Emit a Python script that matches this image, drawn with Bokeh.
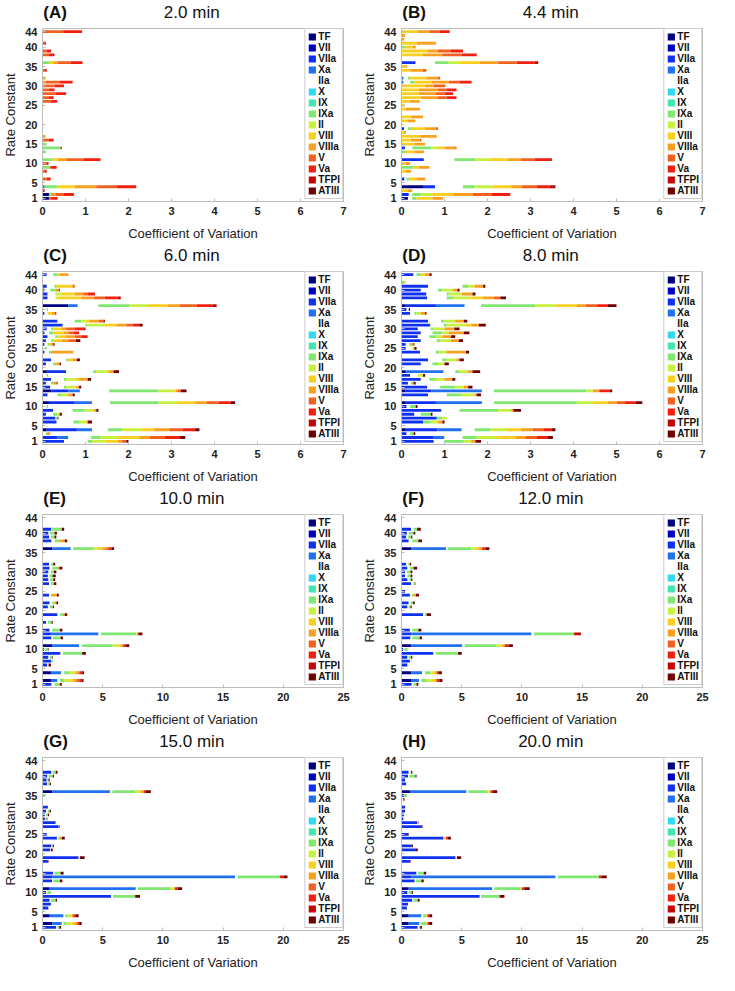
from bokeh.plotting import figure
from bokeh.layouts import gridplot
from bokeh.models import FixedTicker, ColumnDataSource, Range1d
from bokeh.core.properties import value
from bokeh.embed import file_html
from bokeh.resources import INLINE

species = ["TF", "VII", "VIIa", "Xa", "IIa", "X", "IX", "IXa", "II", "VIII", "VIIIa", "V", "Va", "TFPI", "ATIII"]
colors = ["#000080", "#0000c0", "#1030f0", "#2070f0", "#ffffff", "#30d8f0", "#40e8b0", "#80e870",
          "#c8f040", "#f8d020", "#f8a020", "#f06020", "#f02010", "#c00808", "#700000"]
rate_constants = list(range(1, 45))
panel_labels = ["(A)", "(B)", "(C)", "(D)", "(E)", "(F)", "(G)", "(H)"]
panel_times = ["2.0 min", "4.4 min", "6.0 min", "8.0 min", "10.0 min", "12.0 min", "15.0 min", "20.0 min"]
x_max = [7, 7, 7, 7, 25, 25, 25, 25]
x_ticks_small = [0, 1, 2, 3, 4, 5, 6, 7]
x_ticks_large = [0, 5, 10, 15, 20, 25]
y_ticks = [1, 5, 10, 15, 20, 25, 30, 35, 40, 44]

# cumulative segment ends (species, end of its segment) per rate constant
cv_A = {
    44: [("V", 0.48), ("Va", 0.92)], 41: [("V", 0.04), ("Va", 0.08)],
    39: [("V", 0.1), ("Va", 0.2)], 38: [("V", 0.15), ("Va", 0.28)],
    36: [("IXa", 0.17), ("VIII", 0.25), ("VIIIa", 0.35), ("V", 0.65), ("Va", 0.93)],
    34: [("V", 0.05), ("Va", 0.1)], 32: [("VIIIa", 0.07)],
    31: [("VIIIa", 0.08), ("V", 0.4), ("Va", 0.7)], 30: [("V", 0.28), ("Va", 0.5)],
    29: [("V", 0.15), ("Va", 0.28)], 28: [("V", 0.3), ("Va", 0.55)],
    27: [("V", 0.15), ("Va", 0.26)], 26: [("V", 0.2), ("Va", 0.34)],
    17: [("VIIIa", 0.07)], 16: [("V", 0.15), ("Va", 0.26)], 15: [("IXa", 0.1)],
    14: [("IXa", 0.42), ("Va", 0.45)], 13: [("IXa", 0.08)],
    11: [("IXa", 0.23), ("VIII", 0.35), ("VIIIa", 0.57), ("V", 0.95), ("Va", 1.35)],
    10: [("V", 0.1), ("Va", 0.14)], 9: [("IXa", 0.17), ("V", 0.2), ("Va", 0.33)],
    8: [("V", 0.05), ("Va", 0.1)], 6: [("Xa", 0.03), ("V", 0.1), ("Va", 0.19)],
    4: [("Xa", 0.05), ("IXa", 0.35), ("VIII", 0.75), ("VIIIa", 1.25), ("V", 1.72), ("Va", 2.18)],
    3: [("Va", 0.05)],
    2: [("TF", 0.15), ("IXa", 0.2), ("VIIIa", 0.3), ("V", 0.5), ("Va", 0.73)],
    1: [("TF", 0.15), ("V", 0.2), ("Va", 0.35)],
}
cv_B = {
    44: [("VIII", 0.37), ("VIIIa", 0.65), ("V", 0.88), ("Va", 1.12)], 43: [("VIIIa", 0.08)],
    42: [("VIIIa", 0.06)], 41: [("VIII", 0.35), ("VIIIa", 0.8)],
    40: [("IXa", 0.1), ("VIII", 0.25), ("VIIIa", 0.33)],
    39: [("VIII", 0.6), ("VIIIa", 0.85), ("V", 1.15), ("Va", 1.43)],
    38: [("VIII", 0.5), ("VIIIa", 0.95), ("V", 1.4), ("Va", 1.75)],
    36: [("VIIa", 0.33), ("IIa", 0.78), ("IXa", 1.1), ("II", 1.35), ("VIII", 1.82), ("VIIIa", 2.25),
         ("V", 2.68), ("Va", 3.1), ("TFPI", 3.18)],
    35: [("VIII", 0.1), ("VIIIa", 0.13)], 34: [("VIII", 0.2), ("VIIIa", 0.5), ("V", 0.58)],
    32: [("Xa", 0.05), ("IIa", 0.15), ("IXa", 0.2), ("VIII", 0.58), ("VIIIa", 0.85), ("V", 0.9)],
    31: [("Xa", 0.05), ("IIa", 0.2), ("IXa", 0.3), ("VIII", 0.7), ("VIIIa", 1.1), ("V", 1.35), ("Va", 1.63)],
    30: [("VIII", 0.55), ("VIIIa", 0.75), ("V", 1.02)],
    29: [("VIII", 0.4), ("VIIIa", 0.85), ("V", 1.05), ("Va", 1.28)],
    28: [("VIII", 0.4), ("VIIIa", 0.8), ("V", 1.0), ("Va", 1.2)],
    27: [("VIII", 0.45), ("VIIIa", 0.85), ("V", 1.05), ("Va", 1.28)],
    26: [("VIII", 0.2), ("VIIIa", 0.42)], 25: [("VIII", 0.05), ("VIIIa", 0.07)],
    24: [("VIII", 0.1), ("VIIIa", 0.43)], 22: [("VIII", 0.22), ("VIIIa", 0.5)],
    21: [("VIII", 0.15), ("VIIIa", 0.32)],
    19: [("VIIa", 0.06), ("IIa", 0.15), ("IXa", 0.22), ("VIII", 0.55), ("VIIIa", 0.8), ("V", 0.85)],
    18: [("VIII", 0.05), ("VIIIa", 0.1)], 17: [("VIII", 0.45), ("VIIIa", 0.82)],
    16: [("VIII", 0.22), ("VIIIa", 0.42), ("V", 0.46)], 15: [("VIII", 0.3), ("VIIIa", 0.55)],
    14: [("VIIa", 0.08), ("IIa", 0.25), ("IXa", 0.7), ("II", 0.85), ("VIII", 1.0), ("VIIIa", 1.25), ("V", 1.28)],
    13: [("IXa", 0.1), ("VIII", 0.3), ("VIIIa", 0.52)],
    11: [("VIIa", 0.52), ("IIa", 1.23), ("IXa", 1.72), ("II", 2.05), ("VIII", 2.48), ("VIIIa", 2.78),
         ("V", 3.1), ("Va", 3.48), ("TFPI", 3.5)],
    10: [("VIII", 0.1), ("VIIIa", 0.2)], 9: [("IXa", 0.28), ("VIII", 0.4), ("VIIIa", 0.65)],
    8: [("VIII", 0.1), ("VIIIa", 0.22)],
    6: [("VIIa", 0.07), ("IIa", 0.12), ("IXa", 0.18), ("VIII", 0.35), ("VIIIa", 0.55)],
    4: [("TF", 0.5), ("VIIa", 0.78), ("IIa", 1.43), ("IXa", 1.7), ("II", 2.12), ("VIII", 2.55), ("VIIIa", 2.8),
        ("V", 3.15), ("Va", 3.45), ("TFPI", 3.55), ("ATIII", 3.58)],
    3: [("VIII", 0.15), ("VIIIa", 0.25)],
    2: [("VIIa", 0.17), ("IIa", 0.25), ("IXa", 0.45), ("II", 0.72), ("VIII", 1.22), ("VIIIa", 1.65),
        ("V", 2.1), ("Va", 2.53)],
    1: [("TF", 0.15), ("IIa", 0.25), ("IXa", 0.35), ("VIII", 0.72), ("VIIIa", 0.97)],
}
cv_C = {
    44: [("VIIa", 0.1), ("IIa", 0.25), ("IXa", 0.35), ("VIII", 0.4), ("VIIIa", 0.58), ("V", 0.6)],
    43: [("IIa", 0.05)], 42: [("IIa", 0.04)],
    41: [("VIIa", 0.1), ("IIa", 0.28), ("IXa", 0.32), ("VIII", 0.7), ("V", 0.75)],
    40: [("VIIa", 0.05), ("IIa", 0.18), ("IXa", 0.3), ("VIIIa", 0.38), ("ATIII", 0.4)],
    39: [("VIIa", 0.12), ("IIa", 0.3), ("II", 0.45), ("VIII", 0.75), ("VIIIa", 0.95), ("V", 1.05),
         ("Va", 1.2), ("TFPI", 1.22)],
    38: [("VIIa", 0.12), ("IIa", 0.3), ("II", 0.35), ("VIII", 0.9), ("VIIIa", 1.2), ("V", 1.45),
         ("Va", 1.75), ("TFPI", 1.82)],
    36: [("TF", 0.6), ("Xa", 0.82), ("IIa", 1.3), ("IXa", 2.02), ("II", 2.45), ("VIII", 2.92),
         ("VIIIa", 3.2), ("V", 3.58), ("Va", 3.95), ("TFPI", 4.05)],
    35: [("IIa", 0.1), ("IXa", 0.13)],
    34: [("VIIa", 0.05), ("IIa", 0.12), ("VIII", 0.22), ("VIIIa", 0.3), ("ATIII", 0.32)],
    32: [("VIIa", 0.35), ("IIa", 0.75), ("IXa", 0.9), ("II", 1.0), ("VIII", 1.1), ("VIIIa", 1.3),
         ("V", 1.42), ("ATIII", 1.45)],
    31: [("VIIa", 0.47), ("IIa", 1.0), ("IXa", 1.05), ("II", 1.45), ("VIII", 1.72), ("VIIIa", 1.95),
         ("V", 2.1), ("Va", 2.25), ("ATIII", 2.33)],
    30: [("VIIa", 0.1), ("IIa", 0.2), ("IXa", 0.25), ("VIII", 0.45), ("VIIIa", 0.55), ("V", 0.75),
         ("Va", 0.95), ("TFPI", 1.0)],
    29: [("VIIa", 0.05), ("IIa", 0.15), ("IXa", 0.25), ("VIII", 0.5), ("VIIIa", 0.6), ("V", 0.72), ("Va", 0.85)],
    28: [("VIIa", 0.12), ("IIa", 0.3), ("IXa", 0.35), ("VIII", 0.55), ("VIIIa", 0.75), ("V", 0.9), ("Va", 1.05)],
    27: [("VIIa", 0.08), ("IIa", 0.2), ("IXa", 0.25), ("VIII", 0.45), ("VIIIa", 0.6), ("V", 0.78), ("ATIII", 0.88)],
    26: [("VIIa", 0.05), ("IIa", 0.12), ("IXa", 0.15), ("VIII", 0.2), ("VIIIa", 0.25), ("ATIII", 0.28)],
    25: [("IIa", 0.06), ("IXa", 0.1)],
    24: [("VIIa", 0.05), ("IIa", 0.15), ("IXa", 0.2), ("VIIIa", 0.72)],
    22: [("VIIa", 0.2), ("IIa", 0.55), ("IXa", 0.6), ("VIII", 0.7), ("VIIIa", 0.8), ("ATIII", 0.87)],
    21: [("VIIa", 0.08), ("IIa", 0.25), ("IXa", 0.32), ("VIIIa", 0.4), ("ATIII", 0.43)],
    19: [("TF", 0.1), ("VIIa", 0.55), ("IIa", 1.18), ("IXa", 1.25), ("II", 1.5), ("VIII", 1.55),
         ("VIIIa", 1.65), ("ATIII", 1.78)],
    18: [("IIa", 0.1), ("IXa", 0.13)],
    17: [("VIIa", 0.2), ("IIa", 0.5), ("IXa", 0.55), ("II", 0.75), ("VIII", 0.85), ("VIIIa", 1.05), ("ATIII", 1.13)],
    16: [("VIIa", 0.08), ("IIa", 0.2), ("IXa", 0.25), ("VIIIa", 0.33), ("ATIII", 0.35)],
    15: [("VIIa", 0.18), ("IIa", 0.5), ("IXa", 0.55), ("II", 0.75), ("VIII", 0.8), ("VIIIa", 0.85), ("ATIII", 0.9)],
    14: [("TF", 0.2), ("VIIa", 0.6), ("Xa", 0.87), ("IIa", 1.55), ("IXa", 2.7), ("II", 3.05), ("VIII", 3.1),
         ("VIIIa", 3.15), ("V", 3.22), ("ATIII", 3.35)],
    13: [("VIIa", 0.12), ("IIa", 0.35), ("IXa", 0.45), ("II", 0.6), ("VIIIa", 0.7), ("ATIII", 0.75)],
    11: [("TF", 0.15), ("VIIa", 0.75), ("Xa", 1.15), ("IIa", 1.57), ("IXa", 2.7), ("II", 3.15), ("VIII", 3.55),
         ("VIIIa", 3.82), ("V", 4.1), ("Va", 4.38), ("ATIII", 4.48)],
    10: [("IIa", 0.1), ("IXa", 0.13)],
    9: [("VIIa", 0.25), ("IIa", 0.7), ("IXa", 0.98), ("II", 1.2), ("VIIIa", 1.25), ("ATIII", 1.3)],
    8: [("VIIa", 0.08), ("IIa", 0.25), ("IXa", 0.35), ("II", 0.4), ("ATIII", 0.45)],
    7: [("VIIa", 0.3), ("IXa", 0.35), ("ATIII", 0.37)],
    6: [("VIIa", 0.33), ("IIa", 0.72), ("IXa", 0.85), ("II", 1.0), ("VIII", 1.05), ("ATIII", 1.15)],
    4: [("TF", 0.1), ("VIIa", 0.8), ("Xa", 1.15), ("IIa", 1.52), ("IXa", 1.85), ("II", 2.3), ("VIII", 2.6),
        ("VIIIa", 2.95), ("V", 3.25), ("Va", 3.55), ("ATIII", 3.65)],
    3: [("IIa", 0.08), ("IXa", 0.1), ("VIIIa", 0.18)],
    2: [("VIIa", 0.35), ("Xa", 0.6), ("IIa", 1.13), ("IXa", 1.35), ("II", 1.75), ("VIII", 2.25), ("VIIIa", 2.5),
        ("V", 2.85), ("Va", 3.2), ("ATIII", 3.32)],
    1: [("VIIa", 0.5), ("IIa", 1.05), ("IXa", 1.15), ("II", 1.45), ("VIII", 1.75), ("VIIIa", 1.85),
        ("V", 1.95), ("ATIII", 2.0)],
}
cv_D = {
    44: [("VIIa", 0.28), ("IIa", 0.35), ("IXa", 0.45), ("VIII", 0.55), ("VIIIa", 0.65), ("ATIII", 0.7)],
    43: [("IIa", 0.05)], 42: [("IXa", 0.06), ("II", 0.1)],
    41: [("VIIa", 0.62), ("IIa", 1.42), ("IXa", 1.55), ("II", 1.7), ("VIIIa", 1.9), ("ATIII", 1.95)],
    40: [("VIIa", 0.45), ("IIa", 0.85), ("IXa", 0.95), ("II", 1.2), ("VIIIa", 1.3), ("ATIII", 1.35)],
    39: [("VIIa", 0.58), ("IIa", 1.05), ("IXa", 1.1), ("II", 1.4), ("VIIIa", 1.65), ("ATIII", 1.72)],
    38: [("VIIa", 0.6), ("IIa", 1.05), ("IXa", 1.2), ("II", 1.6), ("VIII", 1.9), ("VIIIa", 2.15), ("V", 2.3),
         ("ATIII", 2.43)],
    36: [("TF", 0.1), ("VIIa", 0.8), ("Xa", 1.47), ("IIa", 1.85), ("IXa", 3.12), ("II", 3.6), ("VIII", 4.08),
         ("VIIIa", 4.28), ("V", 4.55), ("Va", 4.8), ("ATIII", 5.0)],
    35: [("VIIa", 0.12), ("IIa", 0.17), ("ATIII", 0.2)],
    34: [("VIIa", 0.2), ("IIa", 0.3), ("IXa", 0.35), ("II", 0.45), ("VIIIa", 0.55), ("ATIII", 0.58)],
    32: [("VIIa", 0.62), ("IIa", 0.92), ("IXa", 1.0), ("II", 1.25), ("VIIIa", 1.45), ("ATIII", 1.53)],
    31: [("VIIa", 0.67), ("IIa", 0.98), ("IXa", 1.05), ("II", 1.5), ("VIII", 1.62), ("VIIIa", 1.8), ("ATIII", 1.96)],
    30: [("VIIa", 0.38), ("IIa", 0.68), ("IXa", 0.75), ("II", 1.0), ("VIIIa", 1.23), ("ATIII", 1.35)],
    29: [("VIIa", 0.45), ("IIa", 0.72), ("IXa", 0.95), ("II", 1.1), ("VIIIa", 1.45), ("ATIII", 1.58)],
    28: [("VIIa", 0.38), ("IIa", 0.65), ("IXa", 0.8), ("II", 0.95), ("VIIIa", 1.15), ("ATIII", 1.25)],
    27: [("VIIa", 0.45), ("IIa", 0.82), ("IXa", 0.9), ("II", 1.15), ("VIIIa", 1.33), ("ATIII", 1.43)],
    26: [("VIIa", 0.1), ("IIa", 0.18), ("IXa", 0.22), ("VIIIa", 0.28), ("ATIII", 0.3)],
    25: [("VIIa", 0.1), ("IIa", 0.25), ("II", 0.3), ("ATIII", 0.35)],
    24: [("VIIa", 0.43), ("IIa", 0.8), ("IXa", 0.88), ("II", 1.05), ("VIIIa", 1.5), ("ATIII", 1.57)],
    22: [("VIIa", 0.62), ("IIa", 0.95), ("IXa", 1.05), ("II", 1.28), ("VIIIa", 1.35), ("ATIII", 1.45)],
    21: [("VIIa", 0.45), ("IIa", 0.72), ("IXa", 0.85), ("II", 1.0), ("ATIII", 1.1)],
    19: [("TF", 0.1), ("Xa", 0.98), ("IIa", 1.25), ("IXa", 1.35), ("II", 1.55), ("VIIIa", 1.65), ("ATIII", 1.83)],
    18: [("VIIa", 0.2), ("IIa", 0.38), ("II", 0.5), ("ATIII", 0.55)],
    17: [("VIIa", 0.45), ("IIa", 0.65), ("IXa", 0.8), ("II", 1.0), ("VIIIa", 1.18), ("ATIII", 1.25)],
    16: [("VIIa", 0.15), ("IIa", 0.22), ("IXa", 0.28), ("ATIII", 0.33)],
    15: [("VIIa", 0.6), ("IIa", 0.9), ("IXa", 1.25), ("II", 1.45), ("VIIIa", 1.55), ("ATIII", 1.65)],
    14: [("TF", 0.1), ("VIIa", 0.7), ("Xa", 1.87), ("IIa", 2.15), ("IXa", 4.3), ("II", 4.45), ("VIIIa", 4.6),
         ("Va", 4.85), ("ATIII", 4.9)],
    13: [("VIIa", 0.62), ("IIa", 1.05), ("IXa", 1.38), ("II", 1.7), ("VIIIa", 1.75), ("ATIII", 1.85)],
    11: [("TF", 0.1), ("VIIa", 0.8), ("Xa", 1.87), ("IIa", 2.15), ("IXa", 4.08), ("II", 4.45), ("VIII", 4.8),
         ("VIIIa", 5.0), ("V", 5.2), ("Va", 5.45), ("ATIII", 5.6)],
    10: [("VIIa", 0.12), ("IIa", 0.2), ("IXa", 0.33), ("ATIII", 0.37)],
    9: [("VIIa", 0.93), ("IIa", 1.35), ("IXa", 2.25), ("II", 2.55), ("VIIIa", 2.6), ("ATIII", 2.78)],
    8: [("VIIa", 0.3), ("IIa", 0.45), ("IXa", 0.68), ("ATIII", 0.72)],
    7: [("VIIa", 0.82), ("IXa", 0.95), ("II", 1.05)],
    6: [("VIIa", 0.5), ("IXa", 0.68), ("II", 0.85), ("VIIIa", 0.95), ("ATIII", 1.0)],
    4: [("TF", 0.1), ("VIIa", 0.83), ("Xa", 1.4), ("IIa", 1.7), ("IXa", 2.07), ("II", 2.45), ("VIII", 2.78),
        ("VIIIa", 3.05), ("V", 3.3), ("Va", 3.5), ("ATIII", 3.58)],
    3: [("VIIa", 0.12), ("IIa", 0.2), ("IXa", 0.28), ("ATIII", 0.32)],
    2: [("VIIa", 0.75), ("Xa", 1.0), ("IIa", 1.42), ("IXa", 1.75), ("II", 2.22), ("VIII", 2.65), ("VIIIa", 2.88),
        ("V", 3.15), ("Va", 3.4), ("ATIII", 3.52)],
    1: [("VIIa", 0.75), ("IIa", 1.0), ("IXa", 1.45), ("II", 1.62), ("VIIIa", 1.72), ("ATIII", 1.85)],
}
cv_E = {
    44: [("IIa", 0.25)],
    41: [("VIIa", 0.75), ("IIa", 0.8), ("IXa", 1.6), ("ATIII", 1.8)],
    40: [("VIIa", 0.5), ("IIa", 0.6), ("IXa", 1.0), ("ATIII", 1.2)],
    39: [("VIIa", 0.55), ("IIa", 0.7), ("IXa", 1.0), ("ATIII", 1.15)],
    38: [("VIIa", 0.75), ("IIa", 1.0), ("IXa", 1.4), ("VIIIa", 1.85), ("ATIII", 2.05)],
    36: [("TF", 0.8), ("Xa", 2.35), ("IIa", 2.55), ("IXa", 4.2), ("II", 4.5), ("VIII", 5.0), ("VIIIa", 5.3),
         ("V", 5.5), ("Va", 5.75), ("ATIII", 5.95)],
    35: [("IIa", 0.2)], 34: [("IIa", 0.3)],
    32: [("VIIa", 0.55), ("IIa", 0.7), ("IXa", 0.9), ("ATIII", 1.05)],
    31: [("VIIa", 0.6), ("IIa", 0.8), ("IXa", 1.2), ("VIIIa", 1.4), ("ATIII", 1.65)],
    30: [("VIIa", 0.5), ("IIa", 0.7), ("IXa", 0.95), ("ATIII", 1.15)],
    29: [("VIIa", 0.45), ("IIa", 0.6), ("IXa", 0.85), ("ATIII", 1.1)],
    28: [("VIIa", 0.5), ("IIa", 0.65), ("IXa", 0.9), ("ATIII", 1.05)],
    27: [("VIIa", 0.55), ("IIa", 0.7), ("IXa", 0.95), ("ATIII", 1.15)],
    26: [("IIa", 0.2)], 25: [("IIa", 0.25)],
    24: [("VIIa", 0.55), ("IIa", 0.7), ("IXa", 0.8), ("VIIIa", 1.2), ("ATIII", 1.35)],
    22: [("VIIa", 0.6), ("IIa", 0.8), ("IXa", 1.0), ("VIIIa", 1.15), ("ATIII", 1.3)],
    21: [("VIIa", 0.45), ("IIa", 0.6), ("IXa", 0.85), ("ATIII", 0.95)],
    19: [("VIIa", 1.25), ("IIa", 1.45), ("IXa", 1.7), ("VIIIa", 1.85), ("ATIII", 2.05)],
    18: [("IIa", 0.4)],
    17: [("VIIa", 0.3), ("IIa", 0.45), ("IXa", 0.75), ("ATIII", 0.85)],
    16: [("IIa", 0.2)],
    15: [("VIIa", 0.6), ("IIa", 0.8), ("IXa", 1.45), ("ATIII", 1.65)],
    14: [("TF", 0.1), ("VIIa", 0.7), ("Xa", 4.65), ("IIa", 4.85), ("IXa", 7.8), ("II", 7.9), ("Va", 8.0),
         ("ATIII", 8.3)],
    13: [("VIIa", 0.75), ("IIa", 0.85), ("IXa", 1.5), ("ATIII", 1.7)],
    11: [("TF", 0.8), ("Xa", 3.05), ("IIa", 3.3), ("IXa", 5.8), ("II", 6.3), ("VIII", 6.5), ("VIIIa", 6.7),
         ("Va", 6.95), ("ATIII", 7.2)],
    10: [("VIIa", 0.15), ("IIa", 0.25), ("IXa", 0.45), ("ATIII", 0.5)],
    9: [("VIIa", 1.5), ("IIa", 1.7), ("IXa", 3.2), ("VIIIa", 3.3), ("ATIII", 3.6)],
    8: [("VIIa", 0.5), ("IIa", 0.6), ("IXa", 0.8), ("ATIII", 0.85)],
    7: [("VIIa", 0.75), ("IIa", 0.8), ("IXa", 0.9)],
    6: [("VIIa", 0.4), ("IIa", 0.5), ("ATIII", 0.7)],
    4: [("TF", 0.7), ("Xa", 1.55), ("IIa", 1.8), ("IXa", 2.2), ("II", 2.55), ("VIII", 2.8), ("VIIIa", 3.0),
        ("V", 3.1), ("Va", 3.3), ("ATIII", 3.45)],
    3: [("IIa", 0.2)],
    2: [("TF", 0.7), ("Xa", 1.25), ("IIa", 1.45), ("IXa", 1.8), ("II", 2.3), ("VIII", 2.6), ("VIIIa", 2.85),
        ("V", 3.05), ("Va", 3.25), ("ATIII", 3.4)],
    1: [("VIIa", 0.75), ("IIa", 1.0), ("IXa", 1.35), ("VIIIa", 1.45), ("ATIII", 1.6)],
}
cv_F = {
    44: [("IIa", 0.1)],
    41: [("VIIa", 0.8), ("IIa", 1.0), ("IXa", 1.3), ("ATIII", 1.6)],
    40: [("VIIa", 0.45), ("IIa", 0.6), ("IXa", 1.0), ("ATIII", 1.15)],
    39: [("VIIa", 0.4), ("IIa", 0.55), ("IXa", 0.8), ("ATIII", 0.9)],
    38: [("VIIa", 0.6), ("IIa", 0.9), ("IXa", 1.4), ("ATIII", 1.7)],
    36: [("TF", 0.8), ("Xa", 3.7), ("IIa", 3.85), ("IXa", 5.8), ("II", 6.1), ("VIII", 6.4), ("VIIIa", 6.7),
         ("Va", 7.0), ("ATIII", 7.3)],
    35: [("IIa", 0.2)], 34: [("IIa", 0.15)],
    32: [("VIIa", 0.4), ("IIa", 0.55), ("IXa", 0.7), ("ATIII", 0.8)],
    31: [("VIIa", 0.5), ("IIa", 0.7), ("IXa", 1.0), ("ATIII", 1.3)],
    30: [("VIIa", 0.3), ("IIa", 0.45), ("IXa", 0.75), ("ATIII", 0.9)],
    29: [("VIIa", 0.3), ("IIa", 0.5), ("IXa", 0.75), ("ATIII", 0.9)],
    28: [("VIIa", 0.5), ("IIa", 0.65), ("IXa", 0.8), ("ATIII", 0.9)],
    27: [("VIIa", 0.8), ("IIa", 1.0), ("IXa", 1.1), ("ATIII", 1.15)],
    26: [("IIa", 0.15)], 25: [("VIIa", 0.3)],
    24: [("VIIa", 0.7), ("IIa", 0.85), ("IXa", 1.0), ("VIIIa", 1.2), ("ATIII", 1.45)],
    22: [("VIIa", 0.6), ("IIa", 0.75), ("IXa", 0.95), ("ATIII", 1.1)],
    21: [("VIIa", 0.5), ("IIa", 0.6), ("IXa", 0.75), ("ATIII", 0.85)],
    19: [("VIIa", 1.8), ("IIa", 1.95), ("IXa", 2.1), ("ATIII", 2.45)],
    18: [("IIa", 0.4)], 17: [("IIa", 0.4)], 16: [("IIa", 0.1)],
    15: [("VIIa", 0.7), ("IIa", 0.9), ("IXa", 1.4), ("ATIII", 1.65)],
    14: [("TF", 0.1), ("VIIa", 0.8), ("Xa", 10.8), ("IIa", 11.0), ("IXa", 14.3), ("Va", 14.4), ("TFPI", 14.9)],
    13: [("VIIa", 0.75), ("IIa", 0.9), ("IXa", 1.5), ("ATIII", 1.7)],
    11: [("TF", 0.8), ("Xa", 5.05), ("IIa", 5.25), ("IXa", 7.9), ("II", 8.2), ("VIII", 8.4), ("VIIIa", 8.6),
         ("Va", 8.9), ("ATIII", 9.25)],
    10: [("VIIa", 0.15), ("IIa", 0.25), ("IXa", 0.5)],
    9: [("VIIa", 2.65), ("IIa", 2.85), ("IXa", 4.7), ("ATIII", 5.0)],
    8: [("VIIa", 0.5), ("IIa", 0.6), ("IXa", 0.8), ("ATIII", 0.9)],
    7: [("VIIa", 0.7), ("IIa", 0.8), ("IXa", 0.85)],
    6: [("VIIa", 0.5), ("IIa", 0.55)],
    4: [("TF", 0.8), ("Xa", 1.7), ("IIa", 1.95), ("IXa", 2.4), ("II", 2.6), ("VIII", 2.8), ("VIIIa", 2.95),
        ("Va", 3.1), ("ATIII", 3.35)],
    3: [("IIa", 0.05)],
    2: [("TF", 0.8), ("Xa", 1.45), ("IIa", 1.65), ("IXa", 2.1), ("II", 2.5), ("VIII", 2.8), ("VIIIa", 2.95),
        ("Va", 3.15), ("ATIII", 3.4)],
    1: [("VIIa", 0.85), ("IIa", 1.0), ("IXa", 1.25), ("ATIII", 1.4)],
}
cv_G = {
    44: [("IIa", 0.05)], 43: [("IIa", 0.05)],
    41: [("VIIa", 0.75), ("IIa", 0.85), ("IXa", 1.1), ("ATIII", 1.25)],
    40: [("VIIa", 0.4), ("IIa", 0.5), ("IXa", 0.85), ("ATIII", 0.95)],
    39: [("VIIa", 0.35), ("IIa", 0.4), ("IXa", 0.5), ("ATIII", 0.6)],
    38: [("VIIa", 0.4), ("IIa", 0.45), ("IXa", 0.6), ("ATIII", 0.7)],
    36: [("TF", 0.8), ("Xa", 5.6), ("IIa", 5.8), ("IXa", 7.7), ("II", 8.0), ("VIII", 8.2), ("VIIIa", 8.4),
         ("Va", 8.55), ("ATIII", 9.0)],
    35: [("IXa", 0.25)], 34: [("IIa", 0.15)],
    32: [("VIIa", 0.45), ("IIa", 0.5)],
    31: [("VIIa", 0.3), ("IIa", 0.45), ("IXa", 0.6), ("ATIII", 0.7)],
    30: [("VIIa", 0.2), ("IIa", 0.3), ("IXa", 0.45), ("ATIII", 0.55)],
    29: [("VIIa", 0.2), ("IIa", 0.25), ("IXa", 0.35), ("ATIII", 0.4)],
    28: [("VIIa", 1.1), ("IIa", 1.15)],
    27: [("VIIa", 1.35), ("IIa", 1.4), ("ATIII", 1.45)],
    26: [("IIa", 0.1)], 25: [("VIIa", 0.35)],
    24: [("VIIa", 1.2), ("IIa", 1.3), ("IXa", 1.45), ("VIIIa", 1.6), ("ATIII", 1.85)],
    23: [("IIa", 0.05)],
    22: [("VIIa", 0.75), ("IIa", 0.8), ("IXa", 0.85), ("ATIII", 0.95)],
    21: [("VIIa", 0.65), ("IIa", 0.7), ("ATIII", 0.85)],
    19: [("VIIa", 3.0), ("IIa", 3.1), ("ATIII", 3.5)],
    18: [("VIIa", 0.45), ("ATIII", 0.5)], 17: [("IIa", 0.1)],
    15: [("VIIa", 0.9), ("IIa", 1.0), ("IXa", 1.5), ("ATIII", 1.75)],
    14: [("TF", 0.1), ("VIIa", 0.8), ("Xa", 16.0), ("IIa", 16.2), ("IXa", 19.7), ("Va", 20.0), ("ATIII", 20.35)],
    13: [("VIIa", 0.8), ("IIa", 0.9), ("IXa", 1.45), ("ATIII", 1.65)],
    11: [("TF", 0.6), ("Xa", 7.75), ("IIa", 7.9), ("IXa", 10.6), ("II", 10.8), ("VIII", 11.0), ("Va", 11.2),
         ("ATIII", 11.6)],
    10: [("VIIa", 0.3), ("IIa", 0.4), ("IXa", 0.7)],
    9: [("VIIa", 5.7), ("IIa", 5.85), ("IXa", 7.7), ("ATIII", 8.1)],
    8: [("VIIa", 0.6), ("IIa", 0.7), ("IXa", 1.1), ("ATIII", 1.2)],
    7: [("VIIa", 0.7), ("IIa", 0.8)],
    6: [("VIIa", 0.5), ("IIa", 0.55)],
    4: [("TF", 0.6), ("Xa", 1.75), ("IIa", 1.9), ("IXa", 2.1), ("II", 2.3), ("VIII", 2.45), ("VIIIa", 2.55),
        ("Va", 2.75), ("ATIII", 3.0)],
    3: [("IIa", 0.05)],
    2: [("TF", 0.8), ("Xa", 1.6), ("IIa", 1.75), ("IXa", 2.0), ("II", 2.4), ("VIII", 2.7), ("VIIIa", 2.9),
        ("Va", 3.05), ("ATIII", 3.25)],
    1: [("VIIa", 1.15), ("IIa", 1.25), ("IXa", 1.4), ("ATIII", 1.55)],
}
cv_H = {
    44: [("IIa", 0.05)],
    41: [("VIIa", 0.6), ("IIa", 0.75), ("IXa", 0.8), ("ATIII", 0.9)],
    40: [("VIIa", 0.55), ("IIa", 0.65), ("IXa", 1.15), ("ATIII", 1.25)],
    39: [("VIIa", 0.3), ("IIa", 0.35)],
    38: [("VIIa", 0.4), ("IIa", 0.45)],
    36: [("TF", 0.7), ("Xa", 5.4), ("IIa", 5.55), ("IXa", 7.15), ("II", 7.3), ("VIII", 7.4), ("Va", 7.6),
         ("ATIII", 7.95)],
    35: [("VIIa", 0.2), ("IXa", 0.45)], 34: [("IIa", 0.15), ("ATIII", 0.25)],
    32: [("VIIa", 0.3)], 31: [("VIIa", 0.3)], 30: [("VIIa", 0.2)], 29: [("VIIa", 0.15)],
    28: [("VIIa", 1.3), ("IIa", 1.35), ("ATIII", 1.4)],
    27: [("VIIa", 1.65), ("ATIII", 1.75)],
    26: [("IIa", 0.05)], 25: [("VIIa", 0.55), ("ATIII", 0.6)],
    24: [("VIIa", 3.5), ("IIa", 3.55), ("VIII", 3.7), ("Va", 3.85), ("ATIII", 4.1)],
    23: [("IIa", 0.1)],
    22: [("VIIa", 0.85), ("ATIII", 0.95)],
    21: [("VIIa", 1.2), ("ATIII", 1.35)],
    20: [("IIa", 0.05)],
    19: [("VIIa", 4.5), ("IIa", 4.6), ("ATIII", 4.95)],
    18: [("VIIa", 0.7), ("ATIII", 0.75)], 17: [("IIa", 0.1)],
    15: [("VIIa", 1.25), ("IIa", 1.35), ("IXa", 1.85), ("ATIII", 2.05)],
    14: [("TF", 0.1), ("VIIa", 0.8), ("Xa", 12.8), ("IIa", 13.0), ("IXa", 16.4), ("Va", 16.6), ("ATIII", 17.05)],
    13: [("VIIa", 1.1), ("IIa", 1.2), ("IXa", 1.65), ("ATIII", 1.85)],
    11: [("TF", 0.6), ("Xa", 7.55), ("IIa", 7.7), ("IXa", 9.9), ("II", 10.0), ("Va", 10.2), ("ATIII", 10.65)],
    10: [("VIIa", 0.5), ("IIa", 0.6), ("IXa", 0.85), ("ATIII", 0.95)],
    9: [("VIIa", 6.5), ("IIa", 6.6), ("IXa", 8.15), ("ATIII", 8.55)],
    8: [("VIIa", 0.9), ("IIa", 1.0), ("IXa", 1.35), ("ATIII", 1.5)],
    7: [("VIIa", 0.55), ("IIa", 0.65)],
    6: [("VIIa", 0.45), ("IIa", 0.5)],
    4: [("TF", 0.6), ("Xa", 1.65), ("IIa", 1.8), ("IXa", 2.05), ("II", 2.15), ("Va", 2.3), ("ATIII", 2.55)],
    3: [("IIa", 0.1)],
    2: [("TF", 0.6), ("Xa", 1.5), ("IIa", 1.6), ("IXa", 2.05), ("II", 2.15), ("Va", 2.3), ("ATIII", 2.55)],
    1: [("VIIa", 1.35), ("IIa", 1.45), ("IXa", 1.55), ("ATIII", 1.7)],
}
panels_data = [cv_A, cv_B, cv_C, cv_D, cv_E, cv_F, cv_G, cv_H]

FONT = "Liberation Sans"
PANEL_W = 359
HEADER_H = 24
PLOT_H = 219


def to_source(cum):
    data = {"k": rate_constants}
    for s in species:
        data[s] = [0.0] * len(rate_constants)
    for k, segs in cum.items():
        prev = 0.0
        for s, end in segs:
            data[s][k - 1] = max(end - prev, 0.0)
            prev = end
    return ColumnDataSource(data)


def make_header(i):
    h = figure(width=PANEL_W, height=HEADER_H, x_range=Range1d(0, PANEL_W), y_range=Range1d(0, HEADER_H),
               x_axis_type=None, y_axis_type=None, output_backend="svg", toolbar_location=None,
               min_border=0)
    h.grid.visible = False
    h.outline_line_color = None
    h.text(x=[1], y=[HEADER_H / 2], text=[panel_labels[i]], text_font=value(FONT),
           text_font_style="bold", text_font_size="17px", text_baseline="middle", text_align="left",
           text_color="#111111")
    h.text(x=[178], y=[HEADER_H / 2], text=[panel_times[i]], text_font=value(FONT),
           text_font_style="normal", text_font_size="17px", text_baseline="middle", text_align="center",
           text_color="#111111")
    return h


def make_panel(i):
    p = figure(width=PANEL_W, height=PLOT_H,
               x_range=Range1d(0, x_max[i]), y_range=Range1d(0.2, 44.8),
               output_backend="svg", toolbar_location=None,
               min_border_left=40, min_border_right=16, min_border_top=4, min_border_bottom=4)
    src = to_source(panels_data[i])
    p.hbar_stack(species, y="k", height=0.72, color=colors, source=src,
                 line_color=None, legend_label=species)
    p.grid.visible = False
    p.outline_line_color = "#bdbdbd"
    for ax in (p.xaxis[0], p.yaxis[0]):
        ax.axis_line_color = "#bdbdbd"
        ax.major_tick_line_color = "#bdbdbd"
        ax.major_tick_in = 3
        ax.major_tick_out = 0
        ax.minor_tick_line_color = None
        ax.major_label_text_font = FONT
        ax.major_label_text_font_style = "bold"
        ax.major_label_text_font_size = "11px"
        ax.major_label_text_color = "#222222"
        ax.axis_label_text_font = FONT
        ax.axis_label_text_font_style = "normal"
        ax.axis_label_text_font_size = "13px"
        ax.axis_label_text_color = "#222222"
    p.xaxis[0].ticker = FixedTicker(ticks=x_ticks_small if x_max[i] == 7 else x_ticks_large)
    p.yaxis[0].ticker = FixedTicker(ticks=y_ticks)
    p.xaxis[0].axis_label = "Coefficient of Variation"
    p.yaxis[0].axis_label = "Rate Constant"
    p.xaxis[0].axis_label_standoff = 8
    p.yaxis[0].axis_label_standoff = 4
    p.xaxis[0].major_label_standoff = 5

    lg = p.legend[0]
    lg.location = "top_right"
    lg.margin = 0
    lg.padding = 2
    lg.spacing = 0
    lg.glyph_width = 9
    lg.glyph_height = 9
    lg.label_height = 11
    lg.label_standoff = 2
    lg.label_text_font = FONT
    lg.label_text_font_style = "bold"
    lg.label_text_font_size = "10px"
    lg.label_text_line_height = 1.0
    lg.label_text_color = "#111111"
    lg.border_line_color = "#9a9a9a"
    lg.background_fill_alpha = 1.0
    return p


rows = []
for r in range(4):
    rows.append([make_header(2 * r), make_header(2 * r + 1)])
    rows.append([make_panel(2 * r), make_panel(2 * r + 1)])
grid = gridplot(rows, toolbar_location=None)

open("out.html", "w").write(file_html(grid, INLINE))
